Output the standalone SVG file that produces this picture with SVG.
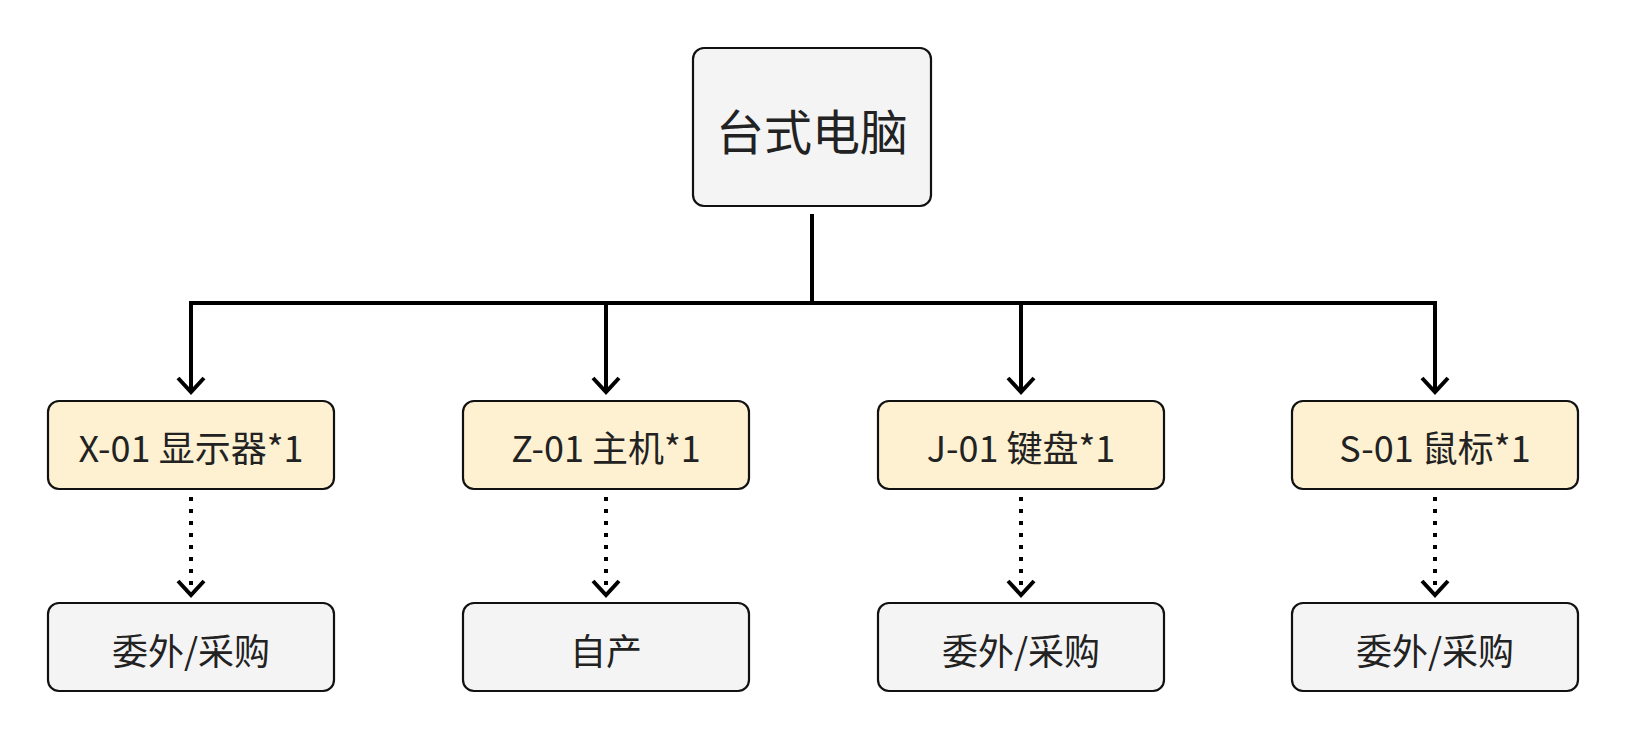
<svg xmlns="http://www.w3.org/2000/svg" width="1628" height="742" viewBox="0 0 1628 742">
<defs>
<style>
.node rect{stroke:#111;stroke-width:2.2}
.gray{fill:#f4f4f4}
.yellow{fill:#fdf1d2}
text{font-family:"Noto Sans CJK SC","Noto Sans",sans-serif;fill:#222;text-anchor:middle;dominant-baseline:central}
.t-big{font-size:48px}
.t{font-size:36px}
</style>
</defs>
<rect width="1628" height="742" fill="#fff"/>
<g id="connectors" fill="none" stroke="#000" stroke-width="4">
<path d="M812 214 V303"/>
<path d="M191 392 V303 H1435 V392"/>
<path d="M606 303 V392"/>
<path d="M1021 303 V392"/>
<path d="M178 378 L191 392 L204 378"/>
<path d="M593 378 L606 392 L619 378"/>
<path d="M1008 378 L1021 392 L1034 378"/>
<path d="M1422 378 L1435 392 L1448 378"/>
<g stroke-dasharray="4 8">
<path d="M191 497 V590"/>
<path d="M606 497 V590"/>
<path d="M1021 497 V590"/>
<path d="M1435 497 V590"/>
</g>
<path d="M178 581 L191 595 L204 581"/>
<path d="M593 581 L606 595 L619 581"/>
<path d="M1008 581 L1021 595 L1034 581"/>
<path d="M1422 581 L1435 595 L1448 581"/>
</g>
<g id="n-root" class="node"><rect class="gray" x="693" y="48" width="238" height="158" rx="11"/><text class="t-big" x="812" y="129">台式电脑</text></g>
<g id="n-x01" class="node"><rect class="yellow" x="48" y="401" width="286" height="88" rx="11"/><text class="t" x="191" y="446">X-01 显示器*1</text></g>
<g id="n-z01" class="node"><rect class="yellow" x="463" y="401" width="286" height="88" rx="11"/><text class="t" x="606" y="446">Z-01 主机*1</text></g>
<g id="n-j01" class="node"><rect class="yellow" x="878" y="401" width="286" height="88" rx="11"/><text class="t" x="1021" y="446">J-01 键盘*1</text></g>
<g id="n-s01" class="node"><rect class="yellow" x="1292" y="401" width="286" height="88" rx="11"/><text class="t" x="1435" y="446">S-01 鼠标*1</text></g>
<g id="n-x01-src" class="node"><rect class="gray" x="48" y="603" width="286" height="88" rx="11"/><text class="t" x="191" y="649">委外/采购</text></g>
<g id="n-z01-src" class="node"><rect class="gray" x="463" y="603" width="286" height="88" rx="11"/><text class="t" x="606" y="649">自产</text></g>
<g id="n-j01-src" class="node"><rect class="gray" x="878" y="603" width="286" height="88" rx="11"/><text class="t" x="1021" y="649">委外/采购</text></g>
<g id="n-s01-src" class="node"><rect class="gray" x="1292" y="603" width="286" height="88" rx="11"/><text class="t" x="1435" y="649">委外/采购</text></g>
</svg>
